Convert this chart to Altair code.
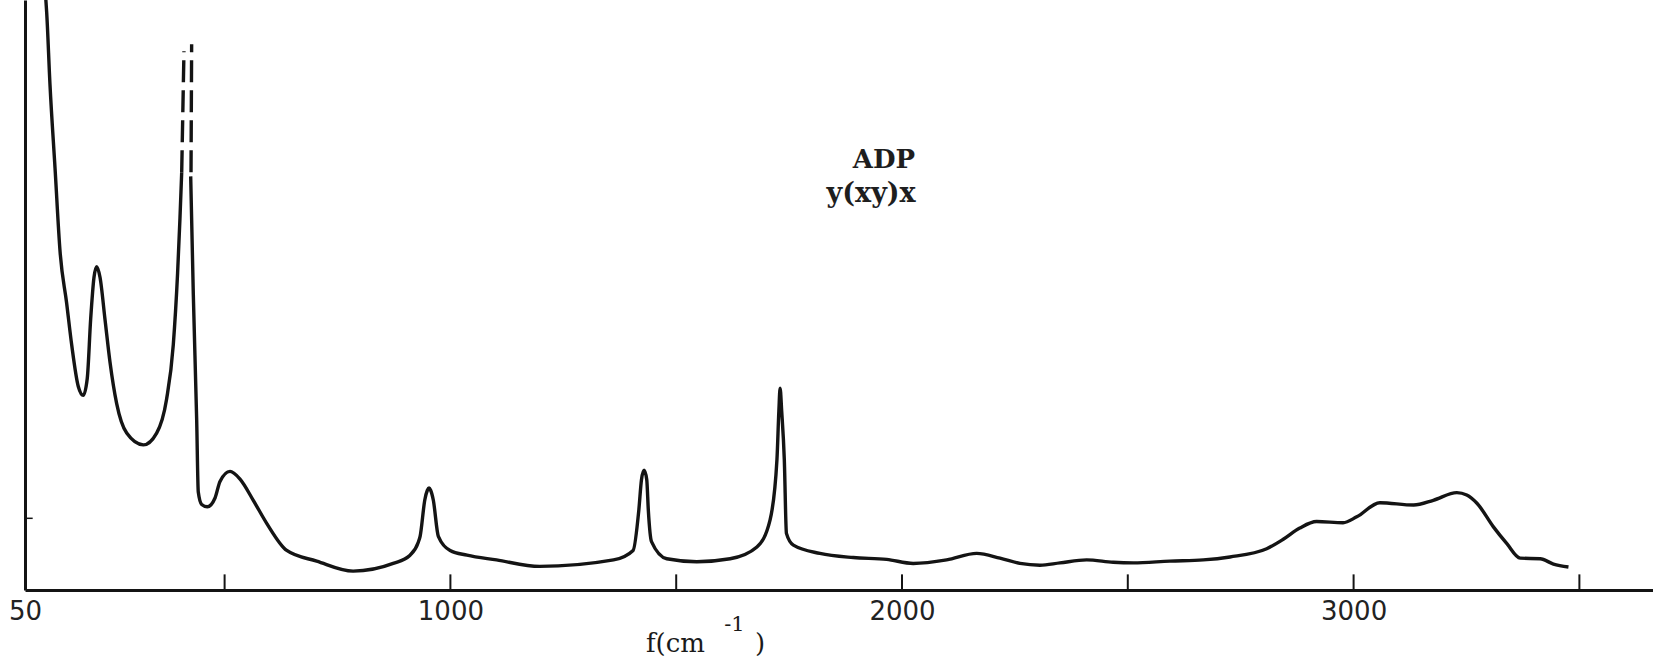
import altair as alt
import pandas as pd

# ---- spectrum values (x: wavenumber cm^-1, y: relative intensity 0-100) ----
low_x = [104.2, 106.0, 113.3, 124.5, 135.7, 150.1, 161.3, 176.0, 187.0, 195.9, 203.4, 210.8,
         216.7, 224.1, 235.1, 246.1, 261.0, 283.2, 320.1, 349.5, 371.4, 386.4, 395.9, 401.1, 405.0]
low_y = [100, 97.9, 85.7, 71.5, 57.3, 48.7, 41.6, 34.5, 33.0, 35.9, 45.9, 53.0,
         54.8, 53.0, 45.9, 38.7, 31.6, 26.6, 24.6, 26.6, 32.3, 41.6, 53.7, 62.9, 70.8]

dash_left_x = [405.0, 410.0]
dash_left_y = [70.8, 91.3]
dash_right_x = [425.6, 427.0]
dash_right_y = [70.8, 92.5]

main_x = [424.9, 430.7, 438.2, 441.7, 449.2, 461.8, 478.8, 489.8, 512.0, 534.1, 563.5, 593.2,
          637.6, 703.9, 784.6, 873.3, 910.7, 928.9, 932.9, 943.4, 949.0, 952.7, 956.2, 962.0,
          973.3, 999.4, 1036.8, 1102.1, 1197.8, 1361.2, 1404.6, 1417.2, 1423.1, 1428.9, 1434.8,
          1438.3, 1445.3, 1479.1, 1545.6, 1619.4, 1678.7, 1707.9, 1723.1, 1727.3, 1730.1, 1733.6,
          1739.4, 1744.1, 1759.5, 1818.3, 1892.1, 1966.0, 2024.9, 2098.9, 2165.4, 2217.0, 2261.4,
          2305.5, 2349.8, 2408.9, 2467.7, 2512.1, 2593.3, 2667.1, 2726.3, 2807.6, 2844.3,
          2880.9, 2918.2, 2976.6, 3007.0, 3058.3, 3133.0, 3176.5, 3228.7, 3250.5, 3273.2, 3309.6,
          3339.0, 3368.9, 3413.2, 3442.6, 3475.8]
main_y = [70.1, 50.1, 28.7, 16.6, 14.5, 14.1, 15.6, 18.4, 20.1, 18.8, 15.2, 11.3,
          6.7, 4.9, 3.2, 4.5, 5.9, 8.1, 9.1, 15.3, 16.9, 17.3, 16.9, 15.3,
          9.1, 6.7, 5.9, 5.1, 4.0, 5.1, 6.7, 13.5, 18.7, 20.3, 18.7,
          13.5, 8.2, 5.3, 4.8, 5.3, 7.3, 11.9, 22.1, 30.3, 34.2, 30.3,
          22.1, 9.6, 7.6, 6.2, 5.5, 5.2, 4.5, 5.1, 6.2, 5.4, 4.5,
          4.2, 4.6, 5.1, 4.7, 4.6, 4.9, 5.1, 5.6, 7.0, 8.6,
          10.5, 11.6, 11.4, 12.4, 14.8, 14.4, 15.2, 16.5, 16.1, 14.7, 10.7,
          7.9, 5.4, 5.3, 4.4, 3.9]

x_domain = [58, 3663]
y_domain = [0, 100]
x_label_values = [58, 1000, 2000, 3000]
x_tick_values = [500, 1000, 1500, 2000, 2500, 3000, 3500]
x_tick_len = 2.65
y_tick_values = [12.15]
y_tick_x = [58, 75]

annot_text = ["ADP", "y(xy)x"]
annot_x = [1891, 1833]
annot_y = [71.5, 65.8]

title_main = ["f(cm", ")"]
title_main_x = [1433, 1674.5]
title_main_y = [-10.5, -10.5]
title_sup = ["-1"]
title_sup_x = [1629]
title_sup_y = [-6.9]

INK = "#141414"

# ---- tables ----
solid = pd.concat([
    pd.DataFrame({"x": low_x, "y": low_y, "seg": "a"}),
    pd.DataFrame({"x": main_x, "y": main_y, "seg": "b"}),
])
dashed = pd.concat([
    pd.DataFrame({"x": dash_left_x, "y": dash_left_y, "seg": "l"}),
    pd.DataFrame({"x": dash_right_x, "y": dash_right_y, "seg": "r"}),
])
xticks = pd.DataFrame({"x": x_tick_values, "y": [0] * len(x_tick_values),
                       "y2": [x_tick_len] * len(x_tick_values)})
yticks = pd.DataFrame({"x": [y_tick_x[0]] * len(y_tick_values), "x2": [y_tick_x[1]] * len(y_tick_values),
                       "y": y_tick_values})
ann_df = pd.DataFrame({"x": annot_x, "y": annot_y, "t": annot_text})
tmain_df = pd.DataFrame({"x": title_main_x, "y": title_main_y, "t": title_main})
tsup_df = pd.DataFrame({"x": title_sup_x, "y": title_sup_y, "t": title_sup})

X = alt.X("x:Q", title=None,
          scale=alt.Scale(domain=x_domain, nice=False, zero=False),
          axis=alt.Axis(values=x_label_values,
                        labelExpr="datum.value < 100 ? '50' : format(datum.value, 'd')",
                        ticks=False, grid=False, domainWidth=3, domainColor=INK,
                        labelFont="DejaVu Sans", labelFontSize=26, labelColor="#222",
                        labelPadding=8, labelFlush=False))
Y = alt.Y("y:Q", title=None,
          scale=alt.Scale(domain=y_domain, nice=False, zero=False),
          axis=alt.Axis(labels=False, ticks=False, grid=False, domainWidth=3, domainColor=INK))

solid_layer = alt.Chart(solid).mark_line(color=INK, strokeWidth=3.4, interpolate="monotone").encode(
    x=X, y=Y, detail="seg:N")
dash_layer = alt.Chart(dashed).mark_line(color=INK, strokeWidth=3.4, strokeDash=[22, 8]).encode(
    x=X, y=Y, detail="seg:N")
xtick_layer = alt.Chart(xticks).mark_rule(color=INK, strokeWidth=2).encode(x=X, y=Y, y2="y2:Q")
ytick_layer = alt.Chart(yticks).mark_rule(color=INK, strokeWidth=1.5).encode(x=X, x2="x2:Q", y=Y)

ann_adp = alt.Chart(ann_df.iloc[[0]]).mark_text(
    font="DejaVu Serif", fontSize=26, fontWeight="bold", align="left", baseline="alphabetic",
    color="#1e1e1e").encode(x=X, y=Y, text="t:N")
ann_dir = alt.Chart(ann_df.iloc[[1]]).mark_text(
    font="DejaVu Serif", fontSize=27, fontWeight="bold", align="left", baseline="alphabetic",
    color="#1e1e1e").encode(x=X, y=Y, text="t:N")
title_layer = alt.Chart(tmain_df).mark_text(
    font="DejaVu Serif", fontSize=26, align="left", baseline="alphabetic", color="#1a1a1a").encode(
    x=X, y=Y, text="t:N")
sup_layer = alt.Chart(tsup_df).mark_text(
    font="DejaVu Serif", fontSize=21, align="center", baseline="alphabetic", color="#1a1a1a").encode(
    x=X, y=Y, text="t:N")

chart = alt.layer(
    solid_layer, dash_layer, xtick_layer, ytick_layer, ann_adp, ann_dir, title_layer, sup_layer
).properties(
    width=1628, height=590,
    autosize=alt.AutoSizeParams(type="none"),
    padding={"left": 25, "top": 0, "right": 0, "bottom": 69},
    background="white",
).configure_view(stroke=None)

chart.save("out.html", embed_options={"renderer": "svg", "actions": False})
